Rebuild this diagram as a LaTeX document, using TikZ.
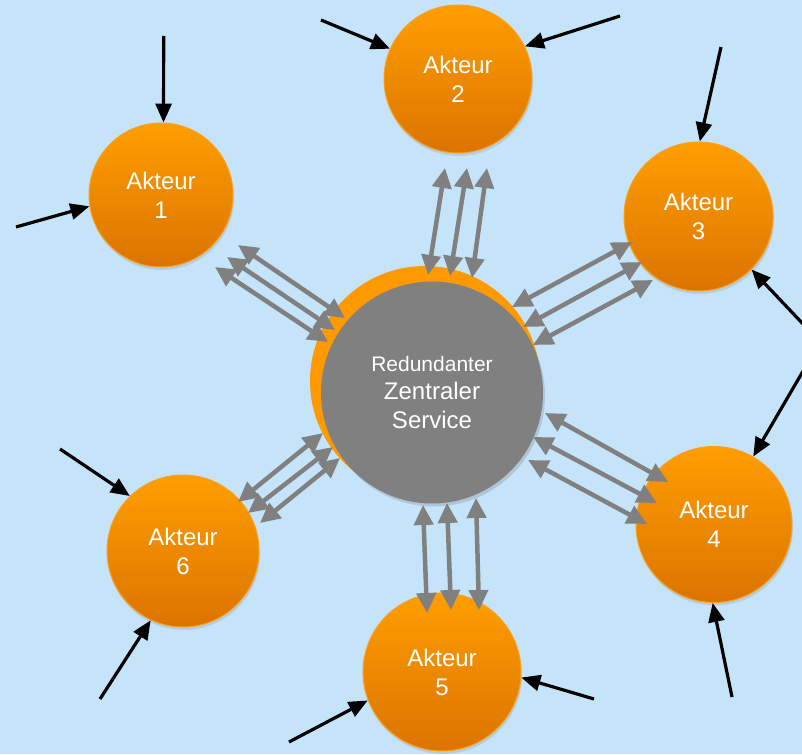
\documentclass[tikz,border=0pt]{standalone}
\usepackage{fontspec}
\setmainfont{Liberation Sans}
\usetikzlibrary{arrows.meta,calc,shadows}
\definecolor{bgblue}{RGB}{197,228,250}
\definecolor{orgtop}{RGB}{255,158,0}
\definecolor{orgbot}{RGB}{219,116,0}
\definecolor{orgline}{RGB}{252,160,28}
\definecolor{orgflat}{RGB}{255,153,0}
\definecolor{svcgray}{RGB}{128,128,128}
\definecolor{arrgray}{RGB}{128,128,128}
\begin{document}
\begin{tikzpicture}[x=1pt,y=-1pt,
  actor/.style={circle, minimum size=#1, inner sep=0pt, top color=orgtop, bottom color=orgbot,
    draw=orgline, line width=1pt, text=white, align=center,
    font=\fontsize{24}{29}\selectfont,
    drop shadow={opacity=0.22, shadow xshift=1pt, shadow yshift=-3pt}},
  svc/.style={circle, minimum size=222pt, inner sep=0pt, fill=svcgray, text=white, align=center,
    font=\fontsize{24}{28.5}\selectfont,
    drop shadow={opacity=0.3, shadow xshift=2pt, shadow yshift=-3pt}},
  back/.style={circle, minimum size=230pt, inner sep=0pt, fill=orgflat},
  garrow/.style={draw=arrgray, line width=4.5pt,
    {Triangle[length=20pt,width=19pt]}-{Triangle[length=20pt,width=19pt]}},
  barrow/.style={draw=black, line width=3.2pt, -{Triangle[length=19pt,width=16pt]}},
  bdarrow/.style={draw=black, line width=3.2pt,
    {Triangle[length=19pt,width=16pt]}-{Triangle[length=19pt,width=16pt]}}
]
\clip (0,0) rectangle (802,754);
\fill[bgblue] (0,0) rectangle (802,754);

% central service
\node[back] (cb) at (425,381) {};
\node[svc] (c) at (432,392.5) {{\fontsize{21}{28.5}\selectfont Redundanter}\\Zentraler\\Service};

% actors
\node[actor=144pt] (a1) at (161,195) {Akteur\\1};
\node[actor=148pt] (a2) at (458,79) {Akteur\\2};
\node[actor=149pt] (a3) at (698.5,216.5) {Akteur\\3};
\node[actor=156pt] (a4) at (714,524.5) {Akteur\\4};
\node[actor=158pt] (a5) at (442,672) {Akteur\\5};
\node[actor=152pt] (a6) at (183,551) {Akteur\\6};

% gray double arrows
\draw[garrow] ($(c)+(-87,-74.5)$) -- ($(a1)+(77,50)$);
\draw[garrow] ($(c)+(-97,-62.5)$) -- ($(a1)+(66,62)$);
\draw[garrow] ($(c)+(-104,-50.5)$) -- ($(a1)+(54,72)$);

\draw[garrow] ($(c)+(-4,-117.5)$) -- ($(a2)+(-13,89)$);
\draw[garrow] ($(c)+(18,-116.5)$) -- ($(a2)+(9,89)$);
\draw[garrow] ($(c)+(40,-114.5)$) -- ($(a2)+(29,89)$);

\draw[garrow] ($(c)+(80,-85.5)$) -- ($(a3)+(-66.5,25.5)$);
\draw[garrow] ($(c)+(91,-65.5)$) -- ($(a3)+(-56.5,45.5)$);
\draw[garrow] ($(c)+(101,-47.5)$) -- ($(a3)+(-45.5,63.5)$);

\draw[garrow] ($(c)+(113,20.5)$) -- ($(a4)+(-46,-42.5)$);
\draw[garrow] ($(c)+(101,44.5)$) -- ($(a4)+(-57,-21.5)$);
\draw[garrow] ($(c)+(96,67.5)$) -- ($(a4)+(-67,-0.5)$);

\draw[garrow] ($(c)+(-9,112.5)$) -- ($(a5)+(-15,-59)$);
\draw[garrow] ($(c)+(15,110.5)$) -- ($(a5)+(9,-62)$);
\draw[garrow] ($(c)+(44,105.5)$) -- ($(a5)+(37,-62)$);

\draw[garrow] ($(c)+(-109,40.5)$) -- ($(a6)+(55,-49)$);
\draw[garrow] ($(c)+(-99,54.5)$) -- ($(a6)+(65,-38)$);
\draw[garrow] ($(c)+(-92,65.5)$) -- ($(a6)+(77,-28)$);

% black incoming arrows
\coordinate (t1a) at (163.7,36);
\coordinate (t1b) at (16,227);
\coordinate (t2a) at (321,20);
\coordinate (t2b) at (620,16);
\coordinate (t3a) at (721,47);
\coordinate (v34) at (820,342);
\coordinate (t4a) at (732,697);
\coordinate (t5a) at (594,699);
\coordinate (t5b) at (289,742);
\coordinate (t6a) at (100,699);
\coordinate (t6b) at (60,449);

\draw[barrow] (t1a) -- (a1.88);
\draw[barrow] (t1b) -- (a1.189);
\draw[barrow] (t2a) -- (a2.156);
\draw[barrow] (t2b) -- (a2.26);
\draw[barrow] (t3a) -- (a3.89);
\draw[bdarrow] (a3.-45.5) -- (v34) -- (a4.60.3);
\draw[barrow] (t4a) -- (a4.269);
\draw[barrow] (t5a) -- (a5.-4.3);
\draw[barrow] (t5b) -- (a5.201.4);
\draw[barrow] (t6a) -- (a6.245.6);
\draw[barrow] (t6b) -- (a6.134.5);
\end{tikzpicture}
\end{document}
